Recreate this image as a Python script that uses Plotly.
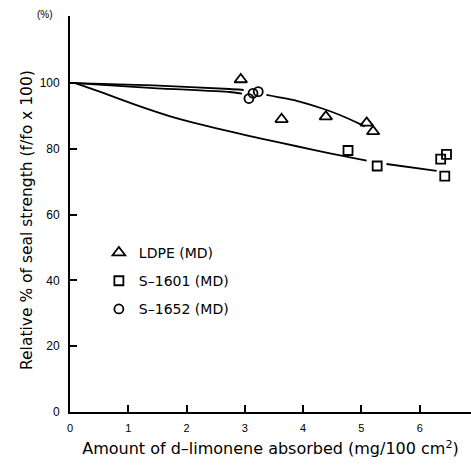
import plotly.graph_objects as go

# Measured points
ldpe_x = [2.93, 3.63, 4.39, 5.09, 5.20]
ldpe_y = [101.1, 89.0, 89.8, 87.9, 85.3]
s1601_x = [4.77, 5.27, 6.36, 6.46, 6.43]
s1601_y = [79.5, 74.8, 76.9, 78.3, 71.7]
s1652_x = [3.07, 3.14, 3.23]
s1652_y = [95.3, 96.9, 97.4]

# Hand-drawn fit curves (None = gap in the drawn line)
ldpe_fit_x = [0.09, 1.43, 2.74, 2.98, None, 3.37, 3.89, 4.34, 4.63, 4.97, 5.06]
ldpe_fit_y = [100.0, 99.3, 98.2, 97.9, None, 96.4, 94.6, 92.2, 90.3, 87.6, 86.8]
s1652_fit_x = [0.09, 1.43, 2.74, 2.95]
s1652_fit_y = [100.0, 98.5, 97.3, 96.8]
s1601_fit_x = [0.09, 0.57, 1.14, 1.72, 2.29, 2.74, 3.32, 3.89, 4.46, 5.09, None, 5.43, 6.29]
s1601_fit_y = [100.0, 97.0, 93.3, 89.9, 87.2, 85.3, 83.0, 80.8, 78.6, 76.4, None, 75.4, 73.3]

x_ticks = [0, 1, 2, 3, 4, 5, 6]
y_ticks = [0, 20, 40, 60, 80, 100]

fig = go.Figure()
line_style = dict(color="black", width=1.8, shape="spline", smoothing=0.5)
for fx, fy in [(ldpe_fit_x, ldpe_fit_y), (s1652_fit_x, s1652_fit_y), (s1601_fit_x, s1601_fit_y)]:
    fig.add_trace(go.Scatter(x=fx, y=fy, mode="lines", line=line_style,
                             showlegend=False, hoverinfo="skip", connectgaps=False))

fig.add_trace(go.Scatter(x=ldpe_x, y=ldpe_y, mode="markers", name="LDPE (MD)", legendgroup="a",
                         marker=dict(symbol="triangle-up-open", size=11, color="black",
                                     line=dict(width=1.8, color="black"))))
fig.add_trace(go.Scatter(x=s1601_x, y=s1601_y, mode="markers", name="S\u20131601 (MD)", legendgroup="b",
                         marker=dict(symbol="square-open", size=9, color="black",
                                     line=dict(width=1.8, color="black"))))
fig.add_trace(go.Scatter(x=s1652_x, y=s1652_y, mode="markers", name="S\u20131652 (MD)", legendgroup="c",
                         marker=dict(symbol="circle-open", size=9, color="black",
                                     line=dict(width=1.8, color="black"))))

font_family = "DejaVu Sans, Liberation Sans, sans-serif"
tick_family = "Liberation Sans, Arial, sans-serif"
fig.update_layout(
    width=471, height=468, autosize=False,
    margin=dict(l=70, r=0, t=16, b=56),
    paper_bgcolor="white", plot_bgcolor="white",
    font=dict(family=font_family, color="black"),
    showlegend=True,
    legend=dict(x=0.072, y=0.442, xanchor="left", yanchor="top",
                font=dict(size=14, family=font_family, color="black"),
                bgcolor="rgba(0,0,0,0)", itemsizing="trace", tracegroupgap=7),
    xaxis=dict(range=[0, 6.88], tickvals=x_ticks, ticks="inside", ticklen=7,
               tickwidth=1.5, tickcolor="black", showline=True, linecolor="black",
               linewidth=1.8, showgrid=False, zeroline=False, ticklabelstandoff=5,
               tickfont=dict(size=11, family=tick_family),
               title=dict(text="Amount of d\u2013limonene absorbed (mg/100 cm<sup>2</sup>)",
                          font=dict(size=16, family=font_family), standoff=10)),
    yaxis=dict(range=[0, 120.4], tickvals=y_ticks, ticks="inside", ticklen=7,
               tickwidth=1.5, tickcolor="black", showline=True, linecolor="black",
               linewidth=1.8, showgrid=False, zeroline=False,
               tickfont=dict(size=12, family=tick_family), ticklabelstandoff=6),
    annotations=[
        dict(text="(%)", xref="paper", yref="paper", x=-0.062, y=1.005,
             showarrow=False, font=dict(size=10, family=tick_family),
             xanchor="center", yanchor="middle"),
        dict(text="Relative % of seal strength (f/fo x 100)", xref="paper", yref="paper",
             x=-0.107, y=0.485, textangle=-90, showarrow=False,
             font=dict(size=15.5, family=font_family), xanchor="center", yanchor="middle"),
    ],
)

fig.write_html("out.html")
